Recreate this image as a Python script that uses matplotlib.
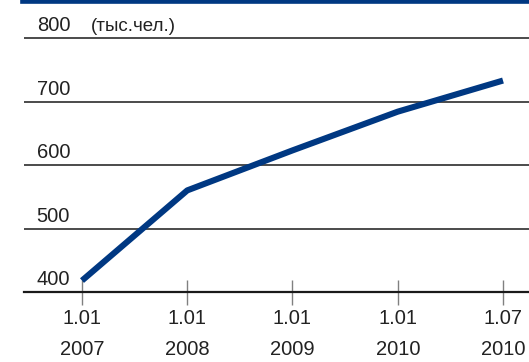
import matplotlib.pyplot as plt
from matplotlib import font_manager

# data
dates = ["1.01\n2007", "1.01\n2008", "1.01\n2009", "1.01\n2010", "1.07\n2010"]
values = [418, 560, 623, 684, 733]
yticks = [400, 500, 600, 700, 800]

names = {f.name for f in font_manager.fontManager.ttflist}
font = "Liberation Sans Narrow" if "Liberation Sans Narrow" in names else "Liberation Sans"
plt.rcParams["font.family"] = [font, "DejaVu Sans"]

navy = "#003882"

fig = plt.figure(figsize=(5.29, 3.62), dpi=100)
ax = fig.add_axes([24 / 529, 70 / 362, 505 / 529, 292 / 362])

x = list(range(len(values)))
ax.set_xlim(-0.551, 4.247)
ax.set_ylim(400, 400 + 292 / 63.5 * 100)

for v in yticks[1:]:
    ax.axhline(v, color="#1a1a1a", lw=1.1, zorder=1)
ax.axhline(400, color="#1a1a1a", lw=1.6, zorder=3, clip_on=False)

ax.plot(x, values, color=navy, lw=4.4, solid_capstyle="butt",
        solid_joinstyle="round", zorder=4)

for s in ["left", "right", "bottom"]:
    ax.spines[s].set_visible(False)
ax.spines["top"].set_color(navy)
ax.spines["top"].set_linewidth(5.5)

ax.set_yticks([])
ax.set_xticks(x)
ax.set_xticklabels(dates, fontsize=14.5, color="#222222", linespacing=1.8)
ax.tick_params(axis="x", length=18, width=1, color="#808080", direction="inout", pad=3)

for v in yticks:
    ax.text(-0.43, v + 4, str(v), fontsize=14.5, color="#222222", ha="left", va="bottom")
ax.text(0.08, 804, "(тыс.чел.)", fontsize=13.5, color="#222222", ha="left", va="bottom")

fig.savefig("out.png", dpi=100)
